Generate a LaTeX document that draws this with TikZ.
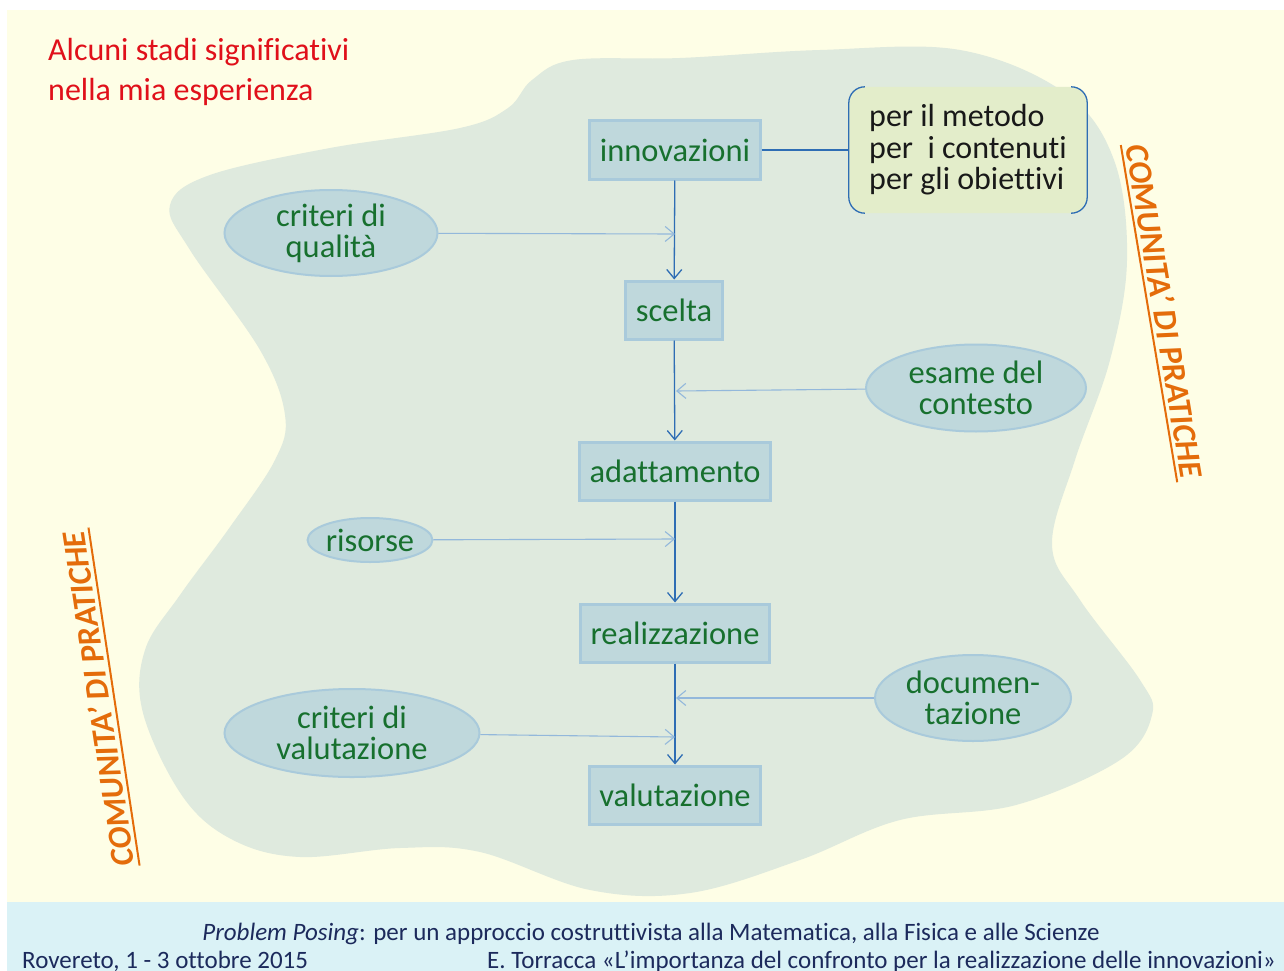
\documentclass[tikz,border=0pt]{standalone}
\usepackage{fontspec}
\setmainfont{Carlito}[Ligatures=NoCommon]
\usetikzlibrary{shapes.geometric,arrows.meta}

\definecolor{paper}{HTML}{FEFEE6}
\definecolor{band}{HTML}{DAF2F6}
\definecolor{blob}{HTML}{DFEADE}
\definecolor{boxfill}{HTML}{BFD8DC}
\definecolor{boxline}{HTML}{A9CADB}
\definecolor{notefill}{HTML}{E3EDCA}
\definecolor{nodegreen}{HTML}{17702E}
\definecolor{flowblue}{HTML}{2E6DB4}
\definecolor{feedblue}{HTML}{93B8DB}
\definecolor{titlered}{HTML}{E0101A}
\definecolor{copred}{HTML}{E46C0A}
\definecolor{footblue}{HTML}{1C2A5C}

\newcommand\nodefont{\fontsize{32.5}{31}\selectfont}

\begin{document}
\begin{tikzpicture}[x=1pt,y=-1pt,
    box/.style={draw=boxline,line width=3pt,fill=boxfill,text=nodegreen,font=\nodefont,inner xsep=10pt,minimum height=58pt},
    oval/.style={ellipse,draw=boxline,line width=2pt,fill=boxfill,text=nodegreen,font=\nodefont,align=center,inner sep=0pt},
    note/.style={fill=notefill,rounded corners=16pt,text=black!90,font=\fontsize{32}{31.5}\selectfont,align=left,minimum width=238pt,minimum height=126pt},
    cop/.style={text=copred,font=\fontsize{33}{33}\selectfont\bfseries\itshape,inner xsep=2pt,inner ysep=4pt},
    foot/.style={text=footblue,font=\fontsize{25}{26}\selectfont,inner sep=0pt},
    flow/.style={draw=flowblue,line width=1.3pt,-{Straight Barb[length=9pt,width=15pt]}},
    feed/.style={draw=feedblue,line width=1.1pt,-{Straight Barb[length=9pt,width=15pt]}}]
  \useasboundingbox (0,0) rectangle (1284,971);
  % backgrounds
  \fill[white] (0,0) rectangle (1284,971);
  \fill[paper] (7,10) rectangle (1284,902);
  \fill[band] (7,902) rectangle (1284,971);
  \fill[blob] plot[smooth cycle,tension=0.6] coordinates {
    (532,80) (573,60) (680,58) (820,50) (960,50) (1065,93) (1114,160) (1127,260)
    (1110,360) (1075,460) (1052,545) (1080,600) (1140,680) (1152,715) (1120,760)
    (1016,805) (900,820) (800,860) (690,893) (590,890) (480,852) (400,848) (300,857)
    (233,840) (183,797) (143,713) (145,650) (180,595) (230,527) (275,460) (285,415)
    (260,350) (190,250) (170,205) (210,175) (330,148) (460,128) (508,108)};

  % title
  \node[text=titlered,font=\fontsize{32}{40}\selectfont,align=left,anchor=north west,inner sep=0pt] (title) at (48,38)
    {Alcuni stadi significativi\\nella mia esperienza};

  % main chain
  \node[box] (inn) at (675,150) {innovazioni};
  \node[box] (sce) at (674,310) {scelta};
  \node[box] (ada) at (675,471) {adattamento};
  \node[box] (rea) at (675,633) {realizzazione};
  \node[box] (val) at (675,795) {valutazione};

  \node[note] (obi) at (968,150) {per il metodo\\per\ \ i contenuti\\per gli obiettivi};
  \draw[flowblue,line width=1.3pt,rounded corners=16pt]
    ([xshift=15pt]obi.north west) -- (obi.north west) -- (obi.south west) -- ([xshift=15pt]obi.south west);
  \draw[flowblue,line width=1.3pt,rounded corners=16pt]
    ([xshift=-15pt]obi.north east) -- (obi.north east) -- (obi.south east) -- ([xshift=-15pt]obi.south east);

  % side ovals
  \node[oval,minimum width=213pt,minimum height=86pt] (qual) at (331,233) {criteri di\\qualità};
  \node[oval,minimum width=220pt,minimum height=87pt] (esa) at (976,388) {esame del\\contesto};
  \node[oval,minimum width=123pt,minimum height=44pt] (ris) at (370,540) {risorse};
  \node[oval,minimum width=196pt,minimum height=86pt] (doc) at (973,698) {documen-\\tazione};
  \node[oval,minimum width=255pt,minimum height=88pt] (vcr) at (352,733) {criteri di\\valutazione};

  \coordinate (qin) at (675,234);
  \coordinate (ein) at (676,391);
  \coordinate (rin) at (675,539);
  \coordinate (din) at (676,698);
  \coordinate (vin) at (675,737);

  \draw[flow] (inn) -- (sce);
  \draw[flow] (sce) -- (ada);
  \draw[flow] (ada) -- (rea);
  \draw[flow] (rea) -- (val);
  \draw[flowblue,line width=1.3pt] (inn) -- (obi);

  \draw[feed] (qual) -- (qin);
  \draw[feed] (esa) -- (ein);
  \draw[feed] (ris) -- (rin);
  \draw[feed] (doc) -- (din);
  \draw[feed] (vcr) -- (vin);

  % communities of practice
  \node[cop,rotate=-80.5] (copr) at (1165,311) {COMUNITA’ DI PRATICHE};
  \draw[copred,line width=2pt] (copr.south west) -- (copr.south east);
  \node[cop,rotate=98.6] (copl) at (98,699) {COMUNITA’ DI PRATICHE};
  \draw[copred,line width=2pt] (copl.south west) -- (copl.south east);

  % footer
  \node[foot,anchor=base] (conv) at (651,940)
    {\textit{Problem Posing}: per un approccio costruttivista alla Matematica, alla Fisica e alle Scienze};
  \node[foot,anchor=base west] (luogo) at (22,968) {Rovereto, 1 - 3 ottobre 2015};
  \node[foot,anchor=base west] (autore) at (487,968)
    {E. Torracca «L’importanza del confronto per la realizzazione delle innovazioni»};
\end{tikzpicture}
\end{document}
